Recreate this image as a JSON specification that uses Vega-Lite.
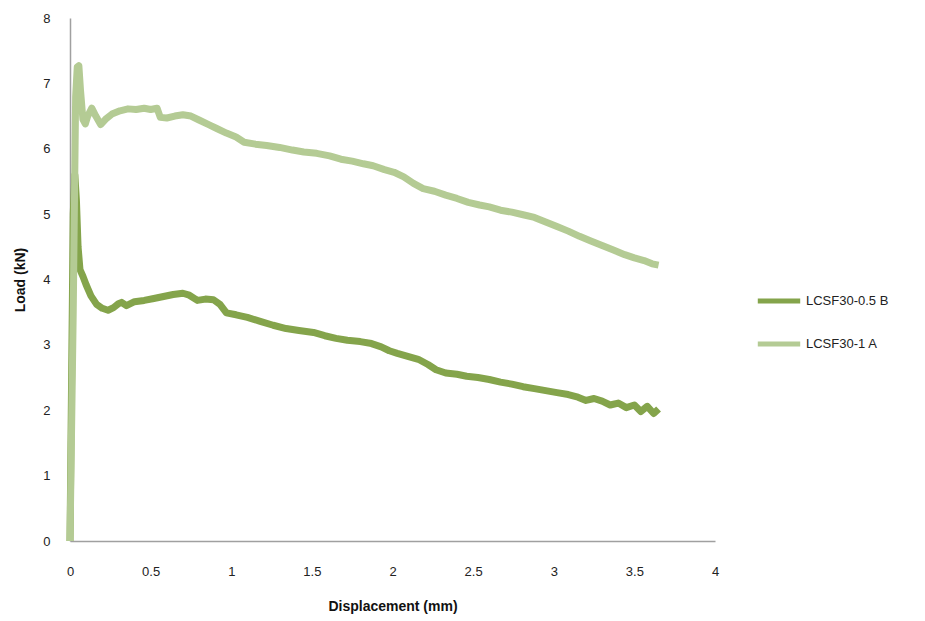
{
  "$schema": "https://vega.github.io/schema/vega-lite/v6.json",
  "autosize": {"type": "none"},
  "width": 645,
  "height": 523,
  "padding": {"left": 70, "top": 18, "right": 210, "bottom": 80},
  "background": "white",
  "config": {
    "view": {"stroke": null},
    "font": "Liberation Sans"
  },
  "data": {
    "values": [
      {"s": "LCSF30-0.5 B", "x": 0, "y": 0},
      {"s": "LCSF30-0.5 B", "x": 0.01, "y": 2.5},
      {"s": "LCSF30-0.5 B", "x": 0.02, "y": 5.0},
      {"s": "LCSF30-0.5 B", "x": 0.03, "y": 5.6},
      {"s": "LCSF30-0.5 B", "x": 0.04, "y": 5.2},
      {"s": "LCSF30-0.5 B", "x": 0.05, "y": 4.5},
      {"s": "LCSF30-0.5 B", "x": 0.062, "y": 4.15},
      {"s": "LCSF30-0.5 B", "x": 0.08, "y": 4.05},
      {"s": "LCSF30-0.5 B", "x": 0.1, "y": 3.92},
      {"s": "LCSF30-0.5 B", "x": 0.13, "y": 3.75},
      {"s": "LCSF30-0.5 B", "x": 0.165, "y": 3.62},
      {"s": "LCSF30-0.5 B", "x": 0.2, "y": 3.56},
      {"s": "LCSF30-0.5 B", "x": 0.236, "y": 3.53},
      {"s": "LCSF30-0.5 B", "x": 0.27, "y": 3.57},
      {"s": "LCSF30-0.5 B", "x": 0.3, "y": 3.63},
      {"s": "LCSF30-0.5 B", "x": 0.32, "y": 3.65},
      {"s": "LCSF30-0.5 B", "x": 0.35, "y": 3.6},
      {"s": "LCSF30-0.5 B", "x": 0.4, "y": 3.66},
      {"s": "LCSF30-0.5 B", "x": 0.46, "y": 3.68},
      {"s": "LCSF30-0.5 B", "x": 0.52, "y": 3.71},
      {"s": "LCSF30-0.5 B", "x": 0.58, "y": 3.74},
      {"s": "LCSF30-0.5 B", "x": 0.64, "y": 3.77},
      {"s": "LCSF30-0.5 B", "x": 0.7, "y": 3.79},
      {"s": "LCSF30-0.5 B", "x": 0.74, "y": 3.76},
      {"s": "LCSF30-0.5 B", "x": 0.79, "y": 3.68},
      {"s": "LCSF30-0.5 B", "x": 0.84, "y": 3.7},
      {"s": "LCSF30-0.5 B", "x": 0.89, "y": 3.69},
      {"s": "LCSF30-0.5 B", "x": 0.93, "y": 3.62},
      {"s": "LCSF30-0.5 B", "x": 0.97, "y": 3.49},
      {"s": "LCSF30-0.5 B", "x": 1.03, "y": 3.46},
      {"s": "LCSF30-0.5 B", "x": 1.1, "y": 3.42},
      {"s": "LCSF30-0.5 B", "x": 1.18, "y": 3.36},
      {"s": "LCSF30-0.5 B", "x": 1.26, "y": 3.3},
      {"s": "LCSF30-0.5 B", "x": 1.34, "y": 3.25},
      {"s": "LCSF30-0.5 B", "x": 1.42, "y": 3.22},
      {"s": "LCSF30-0.5 B", "x": 1.51, "y": 3.19},
      {"s": "LCSF30-0.5 B", "x": 1.58, "y": 3.14},
      {"s": "LCSF30-0.5 B", "x": 1.65, "y": 3.1},
      {"s": "LCSF30-0.5 B", "x": 1.72, "y": 3.07},
      {"s": "LCSF30-0.5 B", "x": 1.8, "y": 3.05},
      {"s": "LCSF30-0.5 B", "x": 1.87, "y": 3.02},
      {"s": "LCSF30-0.5 B", "x": 1.93, "y": 2.97},
      {"s": "LCSF30-0.5 B", "x": 1.98, "y": 2.91},
      {"s": "LCSF30-0.5 B", "x": 2.03, "y": 2.87},
      {"s": "LCSF30-0.5 B", "x": 2.1, "y": 2.82},
      {"s": "LCSF30-0.5 B", "x": 2.16, "y": 2.78},
      {"s": "LCSF30-0.5 B", "x": 2.22, "y": 2.7},
      {"s": "LCSF30-0.5 B", "x": 2.27, "y": 2.62},
      {"s": "LCSF30-0.5 B", "x": 2.33, "y": 2.57},
      {"s": "LCSF30-0.5 B", "x": 2.4, "y": 2.55},
      {"s": "LCSF30-0.5 B", "x": 2.46, "y": 2.52},
      {"s": "LCSF30-0.5 B", "x": 2.53, "y": 2.5},
      {"s": "LCSF30-0.5 B", "x": 2.6, "y": 2.47},
      {"s": "LCSF30-0.5 B", "x": 2.67, "y": 2.43},
      {"s": "LCSF30-0.5 B", "x": 2.74, "y": 2.4},
      {"s": "LCSF30-0.5 B", "x": 2.81, "y": 2.36},
      {"s": "LCSF30-0.5 B", "x": 2.88, "y": 2.33},
      {"s": "LCSF30-0.5 B", "x": 2.95, "y": 2.3},
      {"s": "LCSF30-0.5 B", "x": 3.02, "y": 2.27},
      {"s": "LCSF30-0.5 B", "x": 3.09, "y": 2.24},
      {"s": "LCSF30-0.5 B", "x": 3.15, "y": 2.2},
      {"s": "LCSF30-0.5 B", "x": 3.2, "y": 2.15},
      {"s": "LCSF30-0.5 B", "x": 3.25, "y": 2.18},
      {"s": "LCSF30-0.5 B", "x": 3.3, "y": 2.14},
      {"s": "LCSF30-0.5 B", "x": 3.35, "y": 2.08},
      {"s": "LCSF30-0.5 B", "x": 3.4, "y": 2.11},
      {"s": "LCSF30-0.5 B", "x": 3.45, "y": 2.04},
      {"s": "LCSF30-0.5 B", "x": 3.5, "y": 2.08},
      {"s": "LCSF30-0.5 B", "x": 3.54, "y": 1.98},
      {"s": "LCSF30-0.5 B", "x": 3.58, "y": 2.06},
      {"s": "LCSF30-0.5 B", "x": 3.62, "y": 1.95},
      {"s": "LCSF30-0.5 B", "x": 3.65, "y": 2.02},
      {"s": "LCSF30-1 A", "x": 0, "y": 0},
      {"s": "LCSF30-1 A", "x": 0.02, "y": 3.5},
      {"s": "LCSF30-1 A", "x": 0.035, "y": 6.8},
      {"s": "LCSF30-1 A", "x": 0.045, "y": 7.25},
      {"s": "LCSF30-1 A", "x": 0.055, "y": 7.27},
      {"s": "LCSF30-1 A", "x": 0.065, "y": 6.9},
      {"s": "LCSF30-1 A", "x": 0.08, "y": 6.45},
      {"s": "LCSF30-1 A", "x": 0.095, "y": 6.38},
      {"s": "LCSF30-1 A", "x": 0.11, "y": 6.5},
      {"s": "LCSF30-1 A", "x": 0.135, "y": 6.62},
      {"s": "LCSF30-1 A", "x": 0.16, "y": 6.5},
      {"s": "LCSF30-1 A", "x": 0.19, "y": 6.37},
      {"s": "LCSF30-1 A", "x": 0.22, "y": 6.45},
      {"s": "LCSF30-1 A", "x": 0.26, "y": 6.53},
      {"s": "LCSF30-1 A", "x": 0.31, "y": 6.58},
      {"s": "LCSF30-1 A", "x": 0.36, "y": 6.61},
      {"s": "LCSF30-1 A", "x": 0.41, "y": 6.6},
      {"s": "LCSF30-1 A", "x": 0.46, "y": 6.62},
      {"s": "LCSF30-1 A", "x": 0.5, "y": 6.6},
      {"s": "LCSF30-1 A", "x": 0.54, "y": 6.62},
      {"s": "LCSF30-1 A", "x": 0.56, "y": 6.48},
      {"s": "LCSF30-1 A", "x": 0.6, "y": 6.47},
      {"s": "LCSF30-1 A", "x": 0.65, "y": 6.5},
      {"s": "LCSF30-1 A", "x": 0.7, "y": 6.52},
      {"s": "LCSF30-1 A", "x": 0.75, "y": 6.5},
      {"s": "LCSF30-1 A", "x": 0.8, "y": 6.44},
      {"s": "LCSF30-1 A", "x": 0.86, "y": 6.37},
      {"s": "LCSF30-1 A", "x": 0.91, "y": 6.31},
      {"s": "LCSF30-1 A", "x": 0.97, "y": 6.24},
      {"s": "LCSF30-1 A", "x": 1.03, "y": 6.18},
      {"s": "LCSF30-1 A", "x": 1.08, "y": 6.1},
      {"s": "LCSF30-1 A", "x": 1.15, "y": 6.07},
      {"s": "LCSF30-1 A", "x": 1.22, "y": 6.05},
      {"s": "LCSF30-1 A", "x": 1.3, "y": 6.02},
      {"s": "LCSF30-1 A", "x": 1.38, "y": 5.98},
      {"s": "LCSF30-1 A", "x": 1.45, "y": 5.95},
      {"s": "LCSF30-1 A", "x": 1.53, "y": 5.93},
      {"s": "LCSF30-1 A", "x": 1.61, "y": 5.89},
      {"s": "LCSF30-1 A", "x": 1.68, "y": 5.84},
      {"s": "LCSF30-1 A", "x": 1.75, "y": 5.81},
      {"s": "LCSF30-1 A", "x": 1.82, "y": 5.77},
      {"s": "LCSF30-1 A", "x": 1.88, "y": 5.74},
      {"s": "LCSF30-1 A", "x": 1.95, "y": 5.68},
      {"s": "LCSF30-1 A", "x": 2.01, "y": 5.64},
      {"s": "LCSF30-1 A", "x": 2.07, "y": 5.57},
      {"s": "LCSF30-1 A", "x": 2.13, "y": 5.47},
      {"s": "LCSF30-1 A", "x": 2.19, "y": 5.39},
      {"s": "LCSF30-1 A", "x": 2.26, "y": 5.35},
      {"s": "LCSF30-1 A", "x": 2.33, "y": 5.29},
      {"s": "LCSF30-1 A", "x": 2.4, "y": 5.24},
      {"s": "LCSF30-1 A", "x": 2.47, "y": 5.18},
      {"s": "LCSF30-1 A", "x": 2.54, "y": 5.14},
      {"s": "LCSF30-1 A", "x": 2.6, "y": 5.11},
      {"s": "LCSF30-1 A", "x": 2.67, "y": 5.06},
      {"s": "LCSF30-1 A", "x": 2.74, "y": 5.03},
      {"s": "LCSF30-1 A", "x": 2.81, "y": 4.99},
      {"s": "LCSF30-1 A", "x": 2.88, "y": 4.95},
      {"s": "LCSF30-1 A", "x": 2.95, "y": 4.88},
      {"s": "LCSF30-1 A", "x": 3.02, "y": 4.81},
      {"s": "LCSF30-1 A", "x": 3.09, "y": 4.74},
      {"s": "LCSF30-1 A", "x": 3.16, "y": 4.66},
      {"s": "LCSF30-1 A", "x": 3.23, "y": 4.59},
      {"s": "LCSF30-1 A", "x": 3.3, "y": 4.52},
      {"s": "LCSF30-1 A", "x": 3.37, "y": 4.45},
      {"s": "LCSF30-1 A", "x": 3.44, "y": 4.38},
      {"s": "LCSF30-1 A", "x": 3.5, "y": 4.33},
      {"s": "LCSF30-1 A", "x": 3.56, "y": 4.29},
      {"s": "LCSF30-1 A", "x": 3.61, "y": 4.24},
      {"s": "LCSF30-1 A", "x": 3.65, "y": 4.22}
    ]
  },
  "mark": {"type": "line", "strokeWidth": 7, "strokeJoin": "round", "strokeCap": "butt"},
  "encoding": {
    "x": {
      "field": "x", "type": "quantitative",
      "scale": {"domain": [0, 4], "nice": false, "zero": true},
      "axis": {
        "title": "Displacement  (mm)",
        "values": [0, 0.5, 1, 1.5, 2, 2.5, 3, 3.5, 4],
        "format": "~g",
        "grid": false, "ticks": false,
        "domainColor": "#A0A0A0", "domainWidth": 1.5,
        "labelFont": "Liberation Sans", "labelFontSize": 13, "labelColor": "#222",
        "labelPadding": 24, "labelFlush": false,
        "titleFont": "Liberation Sans", "titleFontSize": 14, "titleFontWeight": "bold",
        "titleColor": "#111", "titlePadding": 21
      }
    },
    "y": {
      "field": "y", "type": "quantitative",
      "scale": {"domain": [0, 8], "nice": false},
      "axis": {
        "title": "Load (kN)",
        "values": [0, 1, 2, 3, 4, 5, 6, 7, 8],
        "format": "~g",
        "grid": false, "ticks": false,
        "domainColor": "#A0A0A0", "domainWidth": 1.5,
        "labelFont": "Liberation Sans", "labelFontSize": 13, "labelColor": "#222",
        "labelPadding": 20,
        "titleFont": "Liberation Sans", "titleFontSize": 14, "titleFontWeight": "bold",
        "titleColor": "#111", "titlePadding": 15
      }
    },
    "color": {
      "field": "s", "type": "nominal",
      "scale": {"domain": ["LCSF30-0.5 B", "LCSF30-1 A"], "range": ["#84A44B", "#B4CB94"]},
      "legend": {
        "title": null,
        "orient": "none",
        "legendX": 685,
        "legendY": 259,
        "symbolType": "stroke",
        "symbolSize": 1800,
        "symbolStrokeWidth": 5,
        "labelFont": "Liberation Sans",
        "labelFontSize": 13,
        "labelColor": "#222",
        "labelOffset": 3,
        "rowPadding": 9
      }
    }
  }
}
